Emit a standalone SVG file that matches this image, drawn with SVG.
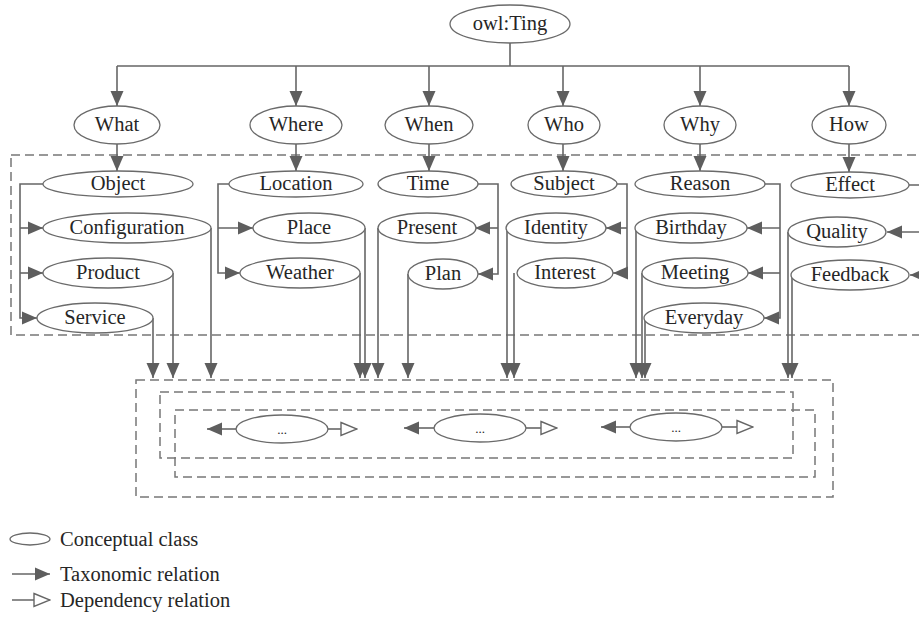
<svg xmlns="http://www.w3.org/2000/svg" width="919" height="622" viewBox="0 0 919 622">
  <defs>
    <style>
      .node ellipse { fill: #ffffff; stroke: #6a6a6a; stroke-width: 1.3; }
      .node text, .legend text { font-family: "Liberation Serif", "Times New Roman", serif; font-size: 20.5px; fill: #262626; text-anchor: middle; }
      .node text.dots { font-size: 13px; }
      .legend text { text-anchor: start; }
      .link { fill: none; stroke: #666666; stroke-width: 1.6; }
      .tax { marker-end: url(#solid); }
      .dep { marker-end: url(#hollow); }
      .frame { fill: none; stroke: #777777; stroke-width: 1.5; stroke-dasharray: 9 5; }
    </style>
    <marker id="solid" markerUnits="userSpaceOnUse" markerWidth="15" markerHeight="14" viewBox="0 0 15 14" refX="15" refY="7" orient="auto">
      <path d="M0,0.5 L15,7 L0,13.5 Z" fill="#5e5e5e"/>
    </marker>
    <marker id="hollow" markerUnits="userSpaceOnUse" markerWidth="18" markerHeight="16" viewBox="0 0 18 16" refX="17" refY="8" orient="auto">
      <path d="M1,1.5 L17,8 L1,14.5 Z" fill="#ffffff" stroke="#666666" stroke-width="1.4"/>
    </marker>
  </defs>

  <!-- dashed grouping frames -->
  <g id="frames">
    <rect class="frame" x="11" y="155" width="925" height="180"/>
    <rect class="frame" x="136" y="380" width="697" height="117"/>
    <rect class="frame" x="160" y="392" width="633" height="66"/>
    <rect class="frame" x="175" y="410" width="640" height="67"/>
  </g>

  <!-- connectors -->
  <g id="connectors">
    <!-- root bus -->
    <path class="link" d="M510,43 V66 M117,66 H849"/>
    <path class="link tax" d="M117,66 V106"/>
    <path class="link tax" d="M296,66 V106"/>
    <path class="link tax" d="M429,66 V106"/>
    <path class="link tax" d="M563,66 V106"/>
    <path class="link tax" d="M700,66 V106"/>
    <path class="link tax" d="M849,66 V106"/>

    <!-- level 1 to level 2 -->
    <path class="link tax" d="M117,144 V171"/>
    <path class="link tax" d="M296,144 V171"/>
    <path class="link tax" d="M429,144 V171"/>
    <path class="link tax" d="M563,144 V171"/>
    <path class="link tax" d="M700,144 V171"/>
    <path class="link tax" d="M849,144 V172"/>

    <!-- What -->
    <path class="link tax" d="M43,184 H20 V318 H37"/>
    <path class="link tax" d="M20,228 H43"/>
    <path class="link tax" d="M20,273 H43"/>
    <path class="link tax" d="M211,228 V378"/>
    <path class="link tax" d="M173,273 V378"/>
    <path class="link tax" d="M153,318 V378"/>

    <!-- Where -->
    <path class="link tax" d="M229,184 H218 V273 H240"/>
    <path class="link tax" d="M218,228 H253"/>
    <path class="link tax" d="M365,228 V378"/>
    <path class="link tax" d="M360,273 V378"/>

    <!-- When -->
    <path class="link tax" d="M478,184 H498 V274 H478"/>
    <path class="link tax" d="M498,228 H475"/>
    <path class="link tax" d="M378,228 V378"/>
    <path class="link tax" d="M408,274 V378"/>

    <!-- Who -->
    <path class="link tax" d="M617,184 H627 V273 H613"/>
    <path class="link tax" d="M627,228 H606"/>
    <path class="link tax" d="M507,228 V378"/>
    <path class="link tax" d="M514,273 V378"/>

    <!-- Why -->
    <path class="link tax" d="M765,184 H780 V318 H764"/>
    <path class="link tax" d="M780,228 H747"/>
    <path class="link tax" d="M780,273 H748"/>
    <path class="link tax" d="M636,228 V378"/>
    <path class="link tax" d="M642,273 V378"/>
    <path class="link tax" d="M645,318 V378"/>

    <!-- How -->
    <path class="link tax" d="M909,185 H925 V275 H910"/>
    <path class="link tax" d="M925,232 H887"/>
    <path class="link tax" d="M788,232 V378"/>
    <path class="link tax" d="M792,275 V378"/>

    <!-- open-ended classes -->
    <path class="link tax" d="M237,429 H207"/>
    <path class="link dep" d="M328,429 H357"/>
    <path class="link tax" d="M434,428 H404"/>
    <path class="link dep" d="M526,428 H557"/>
    <path class="link tax" d="M630,427 H601"/>
    <path class="link dep" d="M722,427 H753"/>
  </g>

  <!-- root -->
  <g id="owl-thing" class="node"><ellipse cx="510" cy="24" rx="60" ry="19"/><text x="510" y="30">owl:Ting</text></g>

  <!-- level 1 -->
  <g id="what" class="node"><ellipse cx="117" cy="125" rx="43" ry="19"/><text x="117" y="131">What</text></g>
  <g id="where" class="node"><ellipse cx="296" cy="125" rx="46" ry="19"/><text x="296" y="131">Where</text></g>
  <g id="when" class="node"><ellipse cx="429" cy="125" rx="44" ry="19"/><text x="429" y="131">When</text></g>
  <g id="who" class="node"><ellipse cx="564" cy="125" rx="36" ry="19"/><text x="564" y="131">Who</text></g>
  <g id="why" class="node"><ellipse cx="700" cy="125" rx="36" ry="19"/><text x="700" y="131">Why</text></g>
  <g id="how" class="node"><ellipse cx="849" cy="125" rx="37" ry="19"/><text x="849" y="131">How</text></g>

  <!-- What children -->
  <g id="object" class="node"><ellipse cx="118" cy="184" rx="75" ry="13"/><text x="118" y="190">Object</text></g>
  <g id="configuration" class="node"><ellipse cx="127" cy="228" rx="84" ry="15"/><text x="127" y="234">Configuration</text></g>
  <g id="product" class="node"><ellipse cx="108" cy="273" rx="65" ry="15"/><text x="108" y="279">Product</text></g>
  <g id="service" class="node"><ellipse cx="95" cy="318" rx="58" ry="15"/><text x="95" y="324">Service</text></g>

  <!-- Where children -->
  <g id="location" class="node"><ellipse cx="296" cy="184" rx="67" ry="13"/><text x="296" y="190">Location</text></g>
  <g id="place" class="node"><ellipse cx="309" cy="228" rx="56" ry="15"/><text x="309" y="234">Place</text></g>
  <g id="weather" class="node"><ellipse cx="300" cy="273" rx="60" ry="15"/><text x="300" y="279">Weather</text></g>

  <!-- When children -->
  <g id="time" class="node"><ellipse cx="428" cy="184" rx="50" ry="13"/><text x="428" y="190">Time</text></g>
  <g id="present" class="node"><ellipse cx="427" cy="228" rx="49" ry="15"/><text x="427" y="234">Present</text></g>
  <g id="plan" class="node"><ellipse cx="443" cy="274" rx="35" ry="15"/><text x="443" y="280">Plan</text></g>

  <!-- Who children -->
  <g id="subject" class="node"><ellipse cx="564" cy="184" rx="53" ry="13"/><text x="564" y="190">Subject</text></g>
  <g id="identity" class="node"><ellipse cx="556" cy="228" rx="50" ry="15"/><text x="556" y="234">Identity</text></g>
  <g id="interest" class="node"><ellipse cx="565" cy="273" rx="48" ry="15"/><text x="565" y="279">Interest</text></g>

  <!-- Why children -->
  <g id="reason" class="node"><ellipse cx="700" cy="184" rx="65" ry="13"/><text x="700" y="190">Reason</text></g>
  <g id="birthday" class="node"><ellipse cx="691" cy="228" rx="56" ry="15"/><text x="691" y="234">Birthday</text></g>
  <g id="meeting" class="node"><ellipse cx="695" cy="273" rx="53" ry="15"/><text x="695" y="279">Meeting</text></g>
  <g id="everyday" class="node"><ellipse cx="704" cy="318" rx="60" ry="15"/><text x="704" y="324">Everyday</text></g>

  <!-- How children -->
  <g id="effect" class="node"><ellipse cx="850" cy="185" rx="59" ry="13"/><text x="850" y="191">Effect</text></g>
  <g id="quality" class="node"><ellipse cx="837" cy="232" rx="49" ry="15"/><text x="837" y="238">Quality</text></g>
  <g id="feedback" class="node"><ellipse cx="850" cy="275" rx="59" ry="15"/><text x="850" y="281">Feedback</text></g>

  <!-- open-ended classes -->
  <g id="more-1" class="node"><ellipse cx="282" cy="429" rx="46" ry="14"/><text class="dots" x="282" y="434">...</text></g>
  <g id="more-2" class="node"><ellipse cx="480" cy="428" rx="46" ry="14"/><text class="dots" x="480" y="433">...</text></g>
  <g id="more-3" class="node"><ellipse cx="676" cy="427" rx="46" ry="14"/><text class="dots" x="676" y="432">...</text></g>

  <!-- legend -->
  <g id="legend" class="legend">
    <ellipse cx="30" cy="539" rx="20" ry="6" fill="#ffffff" stroke="#6a6a6a" stroke-width="1.3"/>
    <text x="60" y="546">Conceptual class</text>
    <path class="link tax" d="M12,574 H50"/>
    <text x="60" y="581">Taxonomic relation</text>
    <path class="link dep" d="M12,600 H50"/>
    <text x="60" y="607">Dependency relation</text>
  </g>
</svg>
